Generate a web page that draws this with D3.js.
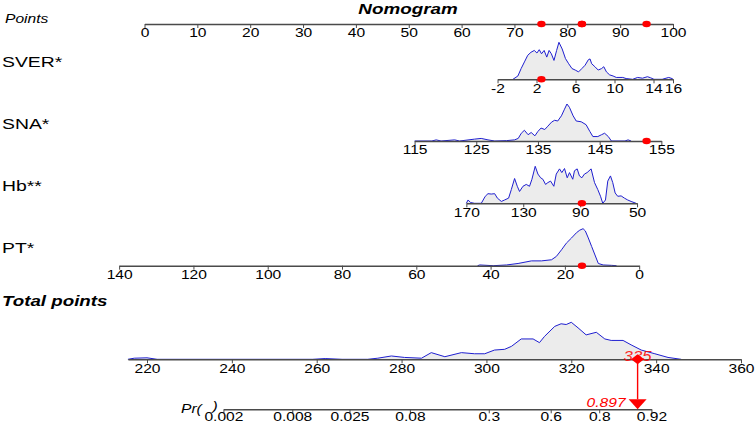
<!DOCTYPE html>
<html>
<head>
<meta charset="utf-8">
<script src="https://cdn.jsdelivr.net/npm/d3@7"></script>
<style>
  body { margin: 0; background: #fff; }
  text { font-family: "Liberation Sans", Arial, sans-serif; }
</style>
</head>
<body>
<div id="box"></div>
<script>
// ---- data ----
const pointTicks = [0, 10, 20, 30, 40, 50, 60, 70, 80, 90, 100];

const varNames = ['SVER*', 'SNA*', 'Hb**', 'PT*'];
const varTicks = [
  [-2, 2, 6, 10, 14, 16],
  [115, 125, 135, 145, 155],
  [170, 130, 90, 50],
  [140, 120, 100, 80, 60, 40, 20, 0]
];
const varRange = [[-2, 16], [115, 155], [170, 50], [140, 0]];
// points given at each end of a variable's range
const varPoints = [[66.8, 100], [51.1, 97.8], [60.9, 93.2], [-4.8, 93.6]];
// the patient marked in red
const patient = [2.5, 152.6, 88.8, 15.4];

// densities: [value, relative height]
const sverDensity = [[-0.42,0],[0.09,0.09],[0.42,0.29],[0.76,0.47],[1.10,0.65],[1.43,0.73],[1.77,0.78],[2.04,0.71],[2.28,0.80],[2.51,0.69],[2.78,0.78],[3.05,0.60],[3.29,0.78],[3.52,0.69],[3.79,0.51],[4.06,0.78],[4.30,1.0],[4.63,0.82],[4.97,0.56],[5.30,0.42],[5.64,0.29],[5.97,0.25],[6.31,0.20],[6.65,0.29],[6.98,0.38],[7.32,0.53],[7.49,0.55],[7.66,0.42],[7.99,0.34],[8.33,0.25],[8.67,0.29],[8.90,0.34],[9.17,0.20],[9.50,0.12],[9.85,0.09],[10.18,0.05],[10.85,0.05],[11.19,0.02],[11.86,0],[12.37,0.05],[12.87,0.03],[13.38,0.07],[13.71,0.04],[14.05,0],[14.89,0],[15.56,0.05],[15.90,0.02],[16,0]];
const snaDensity = [[115,0],[117.8,0],[118.5,0.03],[119.3,0],[121.5,0.03],[122.3,0],[124.7,0.05],[125.8,0.07],[126.9,0.03],[128,0],[129.9,0.01],[131.2,0.03],[131.8,0.07],[132.3,0.21],[132.8,0.29],[133.4,0.17],[133.9,0.23],[134.5,0.14],[135.0,0.26],[135.5,0.35],[136.1,0.31],[136.6,0.40],[137.2,0.51],[137.7,0.56],[138.2,0.54],[138.8,0.68],[139.3,0.86],[139.7,1.0],[140.1,0.91],[140.7,0.68],[141.2,0.54],[142.0,0.52],[142.8,0.44],[143.4,0.26],[143.9,0.12],[144.7,0.12],[145.3,0.17],[145.8,0.21],[146.4,0.12],[146.9,0],[149.1,0],[149.6,0.03],[150.1,0]];
const hbDensity = [[170,0],[168.8,0.09],[167.0,0.02],[164.2,0],[159.5,0],[156.7,0.19],[154.8,0.26],[152.5,0.25],[150.1,0.26],[148.2,0.14],[145.4,0.05],[143.1,0.09],[140.3,0.14],[138.4,0.37],[136.1,0.67],[134.2,0.46],[132.6,0.32],[130.2,0.46],[127.9,0.51],[125.6,0.46],[123.9,0.65],[121.6,1.0],[119.7,0.79],[117.8,0.69],[116.2,0.65],[114.3,0.51],[112.7,0.56],[110.8,0.60],[108.5,0.46],[106.8,0.79],[104.5,0.93],[102.9,0.83],[101.0,0.94],[99.1,0.69],[97.5,0.83],[95.2,0.65],[94.0,0.88],[92.1,0.93],[90.5,0.74],[88.8,0.69],[87.0,0.79],[85.1,0.83],[82.3,0.93],[79.9,0.56],[77.6,0.37],[75.7,0.19],[74.1,0],[72.2,0.09],[70.6,0.60],[68.7,0.74],[67.1,0.56],[65.4,0.28],[63.6,0.19],[61.2,0.20],[58.9,0.14],[56.6,0.09],[54.2,0.05],[50.7,0]];
const ptDensity = [[43.5,0],[42.9,0.02],[39.3,0],[35.7,0.02],[32.6,0.06],[29.0,0.13],[26.3,0.13],[23.6,0.16],[22.3,0.25],[20.9,0.43],[19.6,0.61],[18.2,0.75],[16.9,0.89],[16.0,0.96],[15.1,1.0],[14.5,0.94],[13.7,0.75],[12.8,0.52],[11.9,0.29],[11.0,0.06],[9.7,0.02],[7.5,0.01],[6.1,0]];
const varDensity = [sverDensity, snaDensity, hbDensity, ptDensity];

const totalTicks = [220, 240, 260, 280, 300, 320, 340, 360];
const totalRange = [215.5, 360];
const totalDensity = [[215.5,0],[217,0.03],[220,0.04],[222.4,0],[259,0],[262,0.02],[266,0],[272,0],[274.4,0.03],[277.6,0.09],[280.7,0.05],[284.7,0.03],[287.0,0.18],[290.2,0.07],[294.1,0.18],[297.2,0.15],[299.6,0.15],[301.9,0.25],[304.3,0.27],[305.9,0.35],[308.2,0.55],[311.0,0.55],[312.5,0.45],[313.7,0.62],[316.1,0.89],[317.6,0.96],[318.8,0.94],[320.0,1.0],[321.6,0.85],[323.5,0.66],[325.9,0.73],[327.9,0.55],[329.4,0.51],[332.2,0.51],[334.1,0.39],[336.5,0.25],[339.7,0.15],[342.8,0.05],[345.9,0]];

const prTicks = [0.002, 0.008, 0.025, 0.08, 0.3, 0.6, 0.8, 0.92];
// logistic link: logit(p) = b0 + b1 * total
const b0 = -26.77;
const b1 = 0.0862;

// ---- layout ----
const width = 756, height = 423;
const rowY = { points: 24, vars: [79.3, 141, 203.3, 265.7], total: 359.3, pr: 409.3 };
const densH = 37;
const sx = 1.2; // horizontal stretch of the reference's text
const axisColor = '#4a4a4a';
const red = '#ff0000';

const svg = d3.select('#box').append('svg')
  .attr('width', width)
  .attr('height', height);

const xPoints = d3.scaleLinear().domain([0, 100]).range([144.5, 673]);
const xTotal = d3.scaleLinear().domain([220, 360]).range([147, 741]);
const logit = p => Math.log(p / (1 - p));

function label(txt, x, y, size, style, weight, anchor, stretch) {
  svg.append('text')
    .attr('transform', `translate(${x},${y}) scale(${stretch || sx},1)`)
    .attr('font-size', size)
    .attr('font-style', style || 'normal')
    .attr('font-weight', weight || 'normal')
    .attr('text-anchor', anchor || 'start')
    .text(txt);
}

function drawAxis(scale, y, ticks, fmt, pad) {
  const ax = d3.axisBottom(scale)
    .tickValues(ticks)
    .tickSize(4)
    .tickSizeOuter(0)
    .tickPadding(pad === undefined ? 0 : pad)
    .tickFormat(fmt || (d => String(d)));
  const g = svg.append('g')
    .attr('transform', `translate(0,${y})`)
    .attr('color', axisColor)
    .call(ax);
  g.select('.domain').attr('stroke-width', 1.6);
  g.selectAll('.tick line').attr('stroke-width', 1);
  g.selectAll('.tick text')
    .attr('fill', '#000')
    .attr('font-size', 13)
    .attr('font-family', '"Liberation Sans", Arial, sans-serif')
    .attr('transform', `scale(${sx},1)`)
    .attr('x', 0);
  return g;
}

function drawDensity(data, xs, y) {
  const area = d3.area()
    .x(d => xs(d[0]))
    .y0(y)
    .y1(d => y - d[1] * densH);
  const line = d3.line()
    .x(d => xs(d[0]))
    .y(d => y - d[1] * densH);
  svg.append('path').datum(data)
    .attr('d', area)
    .attr('fill', '#ececec');
  svg.append('path').datum(data)
    .attr('d', line)
    .attr('fill', 'none')
    .attr('stroke', '#1f1fd0')
    .attr('stroke-width', 1);
}

function redDot(x, y) {
  svg.append('ellipse')
    .attr('cx', x).attr('cy', y)
    .attr('rx', 4.2).attr('ry', 3.3)
    .attr('fill', red);
}

// title and points row
label('Nomogram', 408, 13.5, 14.5, 'italic', 'bold', 'middle', 1.3);
label('Points', 5, 23, 13, 'italic');
drawAxis(xPoints, rowY.points, pointTicks);

// variable rows
const pointsOf = varNames.map((n, i) =>
  d3.scaleLinear().domain(varRange[i]).range(varPoints[i]));
let totalScore = 0;

varNames.forEach((name, i) => {
  const y = rowY.vars[i];
  const xs = d3.scaleLinear()
    .domain(varRange[i])
    .range(varPoints[i].map(xPoints));
  label(name, 2, y - 12.5, 15.5, 'normal', 'normal', 'start', 1.25);
  drawDensity(varDensity[i], xs, y);
  drawAxis(xs, y, varTicks[i]);
  totalScore += pointsOf[i](patient[i]);
});

// red markers: points row and each variable axis
varNames.forEach((name, i) => {
  const pts = pointsOf[i](patient[i]);
  redDot(xPoints(pts), rowY.points);
  redDot(xPoints(pts), rowY.vars[i]);
});

// total points row
label('Total points', 2, 306, 15, 'italic', 'bold', 'start', 1.25);
const xTotalAxis = xTotal.copy().domain(totalRange).range(totalRange.map(xTotal));
drawDensity(totalDensity, xTotal, rowY.total);
drawAxis(xTotalAxis, rowY.total, totalTicks);

// probability row
const tAt = p => (logit(p) - b0) / b1;
const xPr = d3.scaleLinear()
  .domain([logit(prTicks[0]), logit(prTicks[prTicks.length - 1])])
  .range([xTotal(tAt(prTicks[0])) - 2, xTotal(tAt(prTicks[prTicks.length - 1]))]);
drawAxis(xPr, rowY.pr, prTicks.map(logit), (d, i) => String(prTicks[i]), -2);

svg.append('text')
  .attr('transform', `translate(181,413) scale(${sx},1)`)
  .attr('font-size', 13)
  .attr('font-style', 'italic')
  .text('Pr(')
  .append('tspan')
  .attr('dx', 9)
  .attr('dy', -3)
  .text(')');

// patient's total and probability
const tx = xTotal(totalScore);
const prob = 1 / (1 + Math.exp(-(b0 + b1 * totalScore)));
const ty = rowY.total;
const py = rowY.pr;

svg.append('line')
  .attr('x1', tx).attr('x2', tx)
  .attr('y1', ty).attr('y2', py - 10)
  .attr('stroke', red)
  .attr('stroke-width', 1.4);

const dia = d3.path();
dia.moveTo(tx - 6.5, ty);
dia.lineTo(tx, ty - 5);
dia.lineTo(tx + 6.5, ty);
dia.lineTo(tx, ty + 5);
dia.closePath();
svg.append('path').attr('d', dia.toString()).attr('fill', red);

const tri = d3.path();
tri.moveTo(tx - 9, py - 10);
tri.lineTo(tx + 9, py - 10);
tri.lineTo(tx, py);
tri.closePath();
svg.append('path').attr('d', tri.toString()).attr('fill', red);

svg.append('text')
  .attr('transform', `translate(${tx},${ty + 1.5}) scale(${sx},1)`)
  .attr('font-size', 14)
  .attr('font-style', 'italic')
  .attr('text-anchor', 'middle')
  .attr('fill', red)
  .attr('fill-opacity', 0.85)
  .text(d3.format('d')(Math.floor(totalScore)));

svg.append('text')
  .attr('transform', `translate(${tx - 12},${py - 2.5}) scale(${sx},1)`)
  .attr('font-size', 13)
  .attr('font-style', 'italic')
  .attr('text-anchor', 'end')
  .attr('fill', red)
  .text(d3.format('.3f')(prob));
</script>
</body>
</html>
